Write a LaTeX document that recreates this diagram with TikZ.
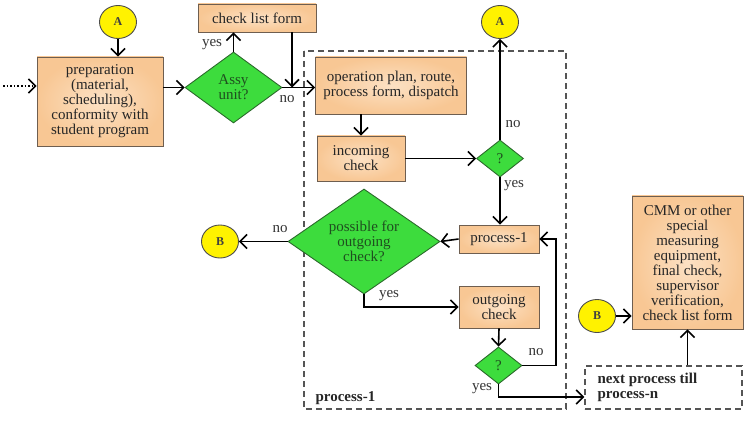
\documentclass[tikz,border=0pt]{standalone}
\usepackage{fontspec}
\setmainfont{Liberation Serif}
\usetikzlibrary{arrows.meta,shapes.geometric}
\definecolor{peachin}{HTML}{FCE1C4}
\definecolor{peachout}{HTML}{F8C794}
\definecolor{boxline}{HTML}{6E5E50}
\definecolor{decfill}{HTML}{3DDC3D}
\definecolor{decline}{HTML}{2B6A2B}
\definecolor{dectxt}{HTML}{1F4F1F}
\definecolor{conn}{HTML}{FFF200}
\definecolor{frameline}{HTML}{555555}
\tikzset{
  every node/.style={font=\fontsize{15}{15}\selectfont, text=black!85},
  flowbox/.style={draw=boxline, line width=0.9pt, inner color=peachin, outer color=peachout,
    inner sep=0pt, align=center},
  decision/.style={diamond, draw=decline, line width=0.9pt, fill=decfill, inner sep=0pt},
  dectext/.style={text=dectxt, align=center},
  connector/.style={ellipse, draw=black!70, line width=0.9pt, fill=conn, inner sep=0pt,
    minimum width=37pt, minimum height=33pt, font=\fontsize{12}{12}\bfseries, text=black!75},
  barb/.style={-{Straight Barb[length=7pt,width=14pt,line width=1.6pt]}},
  flow/.style={line width=1.6pt, barb},
  tag/.style={inner sep=1pt, text=black!80},
  dashframe/.style={draw=frameline, line width=1.4pt, dash pattern=on 6pt off 4pt},
}
\begin{document}
\begin{tikzpicture}[x=1pt,y=-1pt]
\useasboundingbox (0,0) rectangle (749,422);

% dashed frame of the first process
\draw[dashframe] (304,51) rectangle (566,409);
\node[font=\fontsize{15}{15}\bfseries, anchor=west] (frametag) at (312,398) {process-1};

% connectors
\node[connector] (A1) at (118,22) {A};
\node[connector] (A2) at (500,22) {A};
\node[connector] (B1) at (220,241.5) {B};
\node[connector] (B2) at (597,316) {B};

% process boxes
\node[flowbox, minimum width=126pt, minimum height=89pt] (prep) at (100,101.5)
  {preparation\\(material,\\scheduling),\\conformity with\\student program};
\node[flowbox, minimum width=118pt, minimum height=28pt] (clf) at (257,18) {check list form};
\node[flowbox, minimum width=151pt, minimum height=57pt] (oper) at (391,85.5)
  {operation plan, route,\\process form, dispatch};
\node[flowbox, minimum width=88pt, minimum height=45pt] (inc) at (361,158.5) {incoming\\check};
\node[flowbox, minimum width=80pt, minimum height=28pt] (proc) at (499,239) {process-1};
\node[flowbox, minimum width=80pt, minimum height=42pt] (outg) at (499,307) {outgoing\\check};
\node[flowbox, minimum width=111pt, minimum height=133pt] (cmm) at (687.5,262.5)
  {CMM or other\\special\\measuring\\equipment,\\final check,\\supervisor\\verification,\\check list form};
\node[dashframe, minimum width=157pt, minimum height=43pt, inner sep=0pt] (next) at (663.5,387.5) {};
\node[font=\fontsize{15}{15}\bfseries, align=left, anchor=west] (nexttxt) at (594,387.5)
  {next process till\\process-n};

% decisions
\node[decision, minimum width=97pt, minimum height=71pt,
  label={[dectext]center:{Assy\\unit?}}] (assy) at (233.5,87.5) {};
\node[decision, minimum width=47pt, minimum height=37pt,
  label={[dectext]center:{?}}] (q1) at (500,158.5) {};
\node[decision, minimum width=152pt, minimum height=105pt,
  label={[dectext]center:{possible for\\outgoing\\check?}}] (poss) at (364,241.5) {};
\node[decision, minimum width=47pt, minimum height=37pt,
  label={[dectext]center:{?}}] (q2) at (498.5,365.5) {};

% junction points
\coordinate (start) at (3,86);
\coordinate (join) at (292,87.5);
\coordinate (loopR) at (556,365.5);
\coordinate (outY) at (498.5,397);

% flow lines
\draw[line width=1.6pt, dotted, barb] (start) -- (start -| prep.west);
\draw[flow] (A1.south) -- (A1.south |- prep.north);
\draw[flow] (prep.east |- assy.west) -- (assy.west);
\draw[flow] (assy.north) -- (assy.north |- clf.south);
\node[tag] (yes1) at (212,45) {yes};
\draw[flow] (assy.east) -- (assy.east -| oper.west);
\node[tag] (no1) at (287,99) {no};
\draw[flow] (clf.south -| join) -- (join);
\draw[flow] (inc.north |- oper.south) -- (inc.north);
\draw[flow] (inc.east) -- (q1.west);
\draw[flow] (q1.north) -- (A2.south);
\node[tag] (no2) at (513,124) {no};
\draw[flow] (q1.south) -- (q1.south |- proc.north);
\node[tag] (yes2) at (514,186) {yes};
\draw[flow] (proc.west) -- (poss.east);
\draw[flow] (poss.west) -- (B1.east);
\node[tag] (no3) at (280,229) {no};
\draw[flow] (poss.south) -- (poss.south |- outg.west) -- (outg.west);
\node[tag] (yes3) at (389,296) {yes};
\draw[flow] (outg.south) -- (q2.north);
\draw[flow] (q2.east) -- (loopR) -- (loopR |- proc.east) -- (proc.east);
\node[tag] (no4) at (536,352) {no};
\draw[flow] (q2.south) -- (outY) -- (outY -| next.west);
\node[tag] (yes4) at (482,389) {yes};
\draw[flow] (next.north -| cmm.south) -- (cmm.south);
\draw[flow] (B2.east) -- (B2.east -| cmm.west);
\end{tikzpicture}
\end{document}
